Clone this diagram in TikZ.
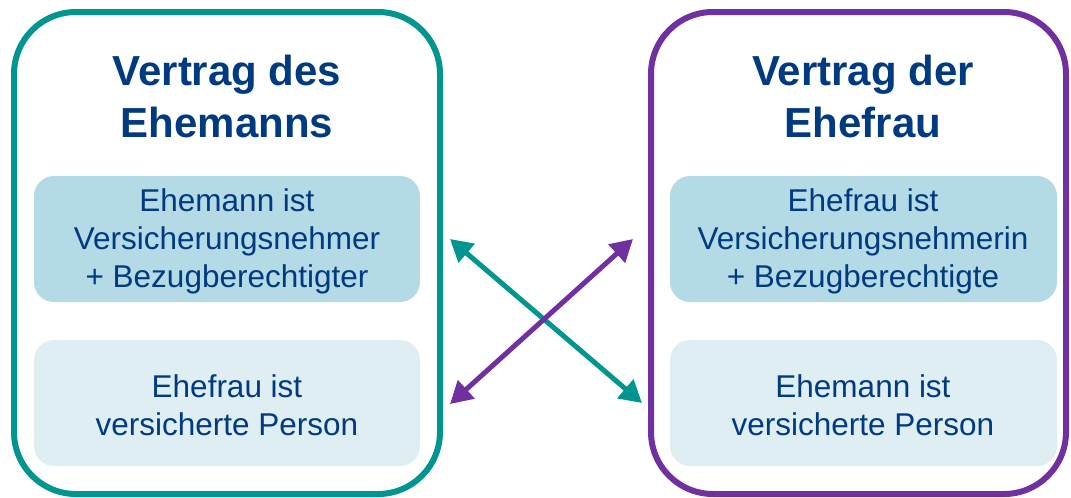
\documentclass[tikz,border=0pt]{standalone}
\usepackage{fontspec}
\setmainfont{Liberation Sans}
\usetikzlibrary{arrows.meta}
\definecolor{tealc}{HTML}{00968F}
\definecolor{purplec}{HTML}{7030A0}
\definecolor{innerdark}{HTML}{B4DAE5}
\definecolor{innerlight}{HTML}{DEEEF2}
\definecolor{textblue}{HTML}{003A80}
\tikzset{
  contract/.style={line width=6pt, rounded corners=62pt},
  inner/.style={rounded corners=20pt},
  title/.style={align=center, text=textblue, font=\fontsize{42}{52}\selectfont\bfseries},
  body/.style={align=center, text=textblue, font=\fontsize{31.5}{38}\selectfont},
  link/.style={line width=5pt, {Triangle[length=22pt,width=24pt]}-{Triangle[length=22pt,width=24pt]}}
}
\begin{document}
\begin{tikzpicture}[x=1pt,y=-1pt]
\useasboundingbox (0,0) rectangle (1071,498);
% outer contract frames
\draw[contract, tealc] (14,12) rectangle (440,494);
\draw[contract, purplec] (651,12) rectangle (1066,494);
% inner boxes
\fill[inner, innerdark] (34,176) rectangle (420,302);
\fill[inner, innerlight] (34,340) rectangle (420,466);
\fill[inner, innerdark] (670,176) rectangle (1057,302);
\fill[inner, innerlight] (670,340) rectangle (1057,466);
% titles
\node[title] (tl) at (227,96) {Vertrag des\\Ehemanns};
\node[title] (tr) at (863,96) {Vertrag der\\Ehefrau};
% texts
\node[body] (l1) at (227,241) {Ehemann ist\\Versicherungsnehmer\\+ Bezugberechtigter};
\node[body] (l2) at (227,405) {Ehefrau ist\\versicherte Person};
\node[body] (r1) at (863,241) {Ehefrau ist\\Versicherungsnehmerin\\+ Bezugberechtigte};
\node[body] (r2) at (863,405) {Ehemann ist\\versicherte Person};
% arrow end points
\coordinate (a1) at (450,239);
\coordinate (a2) at (642,403);
\coordinate (b1) at (450,404);
\coordinate (b2) at (633,239);
\draw[link, tealc] (a1) -- (a2);
\draw[link, purplec] (b1) -- (b2);
\end{tikzpicture}
\end{document}
